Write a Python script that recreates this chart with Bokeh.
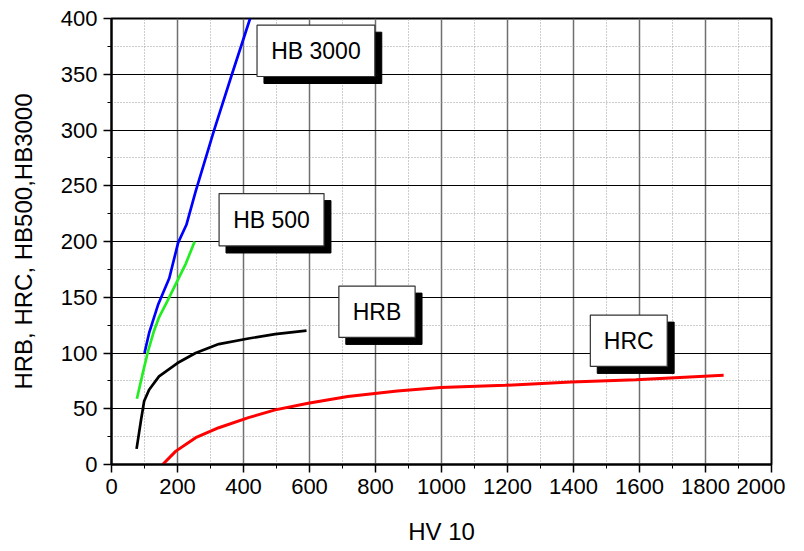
from bokeh.plotting import figure
from bokeh.models import Range1d, SingleIntervalTicker
from bokeh.core.properties import value
from bokeh.embed import file_html
from bokeh.resources import INLINE

# ---- data ----
hb3000_x = [100, 114, 142, 175, 202, 227, 255, 310, 365, 420]
hb3000_y = [100, 118, 144, 167, 199, 215, 245, 299, 350, 400]

hb500_x = [77, 94, 111, 129, 144, 170, 195, 225, 252]
hb500_y = [59, 81, 102, 120, 132, 147, 162, 180, 200]

hrb_x = [76, 89, 99, 114, 144, 200, 255, 325, 415, 496, 591]
hrb_y = [14, 39, 57, 67, 79, 91, 100, 108, 113, 117, 120]

hrc_x = [155, 195, 255, 325, 415, 496, 596, 716, 866, 997, 1193, 1393, 1589, 1855]
hrc_y = [0, 12, 24, 33, 42, 49, 55, 61, 66, 69, 71, 74, 76, 80]

# label boxes: text, left, right, top, bottom (data units)
label_texts = ["HB 3000", "HB 500", "HRB", "HRC"]
box_left = [441, 326, 689, 1451]
box_right = [798, 644, 920, 1684]
box_top = [394, 243, 160, 134]
box_bottom = [348, 196, 114, 88]
shadow_dx = 21
shadow_dy = 6.3

FONT = "Liberation Sans"

p = figure(frame_width=660, frame_height=446,
           min_border_left=111, min_border_top=18, min_border_bottom=70,
           min_border_right=14,
           x_range=Range1d(0, 2000), y_range=Range1d(0, 400),
           output_backend="svg", toolbar_location=None,
           background_fill_color="white", border_fill_color="white")

p.outline_line_color = "black"
p.outline_line_width = 2

p.xaxis.ticker = SingleIntervalTicker(interval=200, num_minor_ticks=2)
p.yaxis.ticker = SingleIntervalTicker(interval=50, num_minor_ticks=2)

# grids
p.xgrid.grid_line_color = "#6f6f6f"
p.xgrid.grid_line_width = 1.5
p.xgrid.minor_grid_line_color = "#9a9a9a"
p.xgrid.minor_grid_line_dash = "1 2"
p.xgrid.minor_grid_line_width = 1
p.ygrid.grid_line_color = "black"
p.ygrid.grid_line_width = 1
p.ygrid.minor_grid_line_color = "#9a9a9a"
p.ygrid.minor_grid_line_dash = "1 2"
p.ygrid.minor_grid_line_width = 1

for ax in (p.xaxis[0], p.yaxis[0]):
    ax.axis_line_width = 2
    ax.axis_line_color = "black"
    ax.major_tick_line_color = "black"
    ax.major_tick_line_width = 1.5
    ax.minor_tick_line_color = "black"
    ax.minor_tick_line_width = 1
    ax.major_tick_out = 8
    ax.major_tick_in = 0
    ax.minor_tick_out = 4
    ax.minor_tick_in = 0
    ax.major_label_text_font = FONT
    ax.major_label_text_font_size = "22px"
    ax.major_label_text_color = "black"
    ax.major_label_standoff = 6
    ax.axis_label_text_font = FONT
    ax.axis_label_text_font_size = "24px"
    ax.axis_label_text_font_style = "normal"
    ax.axis_label_text_color = "black"

p.xaxis.axis_label = "HV 10"
p.xaxis.axis_label_standoff = 21
p.yaxis.axis_label = "HRB, HRC, HB500,HB3000"
p.yaxis.axis_label_standoff = 21

# curves
p.line(hb3000_x, hb3000_y, line_color="#0000ff", line_width=2.7)
p.line(hb500_x, hb500_y, line_color="#22ee22", line_width=2.7)
p.line(hrb_x, hrb_y, line_color="black", line_width=2.7)
p.line(hrc_x, hrc_y, line_color="#ff0000", line_width=3)

# label boxes with shadow
p.quad(left=[l + shadow_dx for l in box_left], right=[r + shadow_dx for r in box_right],
       top=[t - shadow_dy for t in box_top], bottom=[b - shadow_dy for b in box_bottom],
       fill_color="black", line_color="black")
p.quad(left=box_left, right=box_right, top=box_top, bottom=box_bottom,
       fill_color="white", line_color="#333333", line_width=1.2)
cx = [(l + r) / 2 for l, r in zip(box_left, box_right)]
cy = [(t + b) / 2 for t, b in zip(box_top, box_bottom)]
p.text(x=cx, y=cy, text=label_texts, text_font=value(FONT), text_font_size="23px",
       text_align="center", text_baseline="middle", text_color="black")

open("out.html", "w").write(file_html(p, INLINE))
